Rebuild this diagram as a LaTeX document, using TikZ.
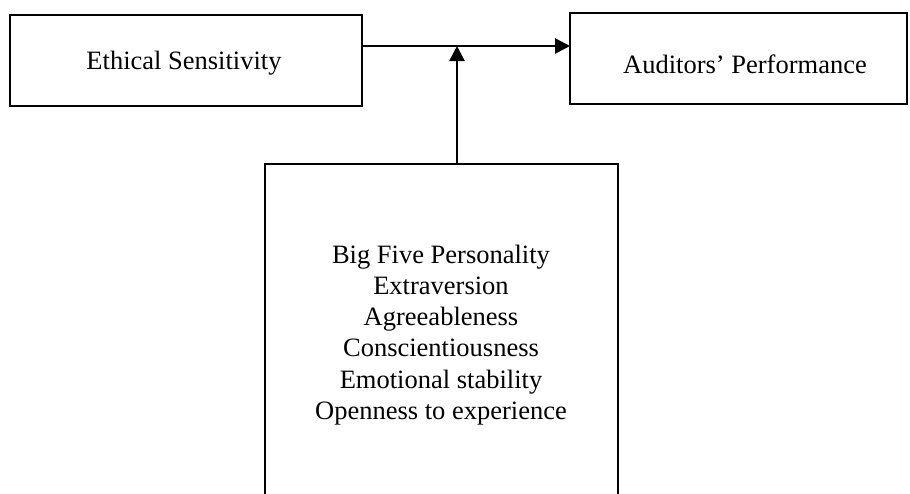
\documentclass[tikz,border=0pt]{standalone}
\usepackage{fontspec}
\setmainfont{Liberation Serif}
\usetikzlibrary{arrows.meta}
\begin{document}
\begin{tikzpicture}[x=1pt,y=-1pt,
  box/.style={draw=black,line width=2.7pt,inner sep=0pt,outer sep=0pt},
  lbl/.style={inner sep=0pt,font=\fontsize{26.5}{31.1}\selectfont,align=center},
  conn/.style={line width=2.7pt,-{Triangle[length=15pt,width=15pt]}}]
\clip (0,0) rectangle (910,493);
\fill[white] (0,0) rectangle (910,493);
\node[box,minimum width=352pt,minimum height=91pt] (es) at (186,60.5) {};
\node[box,minimum width=337pt,minimum height=91pt] (ap) at (738.5,58.5) {};
\node[box,minimum width=353pt,minimum height=360pt] (bf) at (441.5,344) {};
\node[lbl] (est) at (184,63) {Ethical Sensitivity};
\node[lbl] (apt) at (745,64) {Auditors’ Performance};
\node[lbl] (bft) at (441,335) {Big Five Personality\\Extraversion\\Agreeableness\\Conscientiousness\\Emotional stability\\Openness to experience};
\coordinate (j) at (457,46);
\draw[conn] (es.east |- j) -- (ap.west |- j);
\draw[conn] (bf.north -| j) -- (j);
\end{tikzpicture}
\end{document}
